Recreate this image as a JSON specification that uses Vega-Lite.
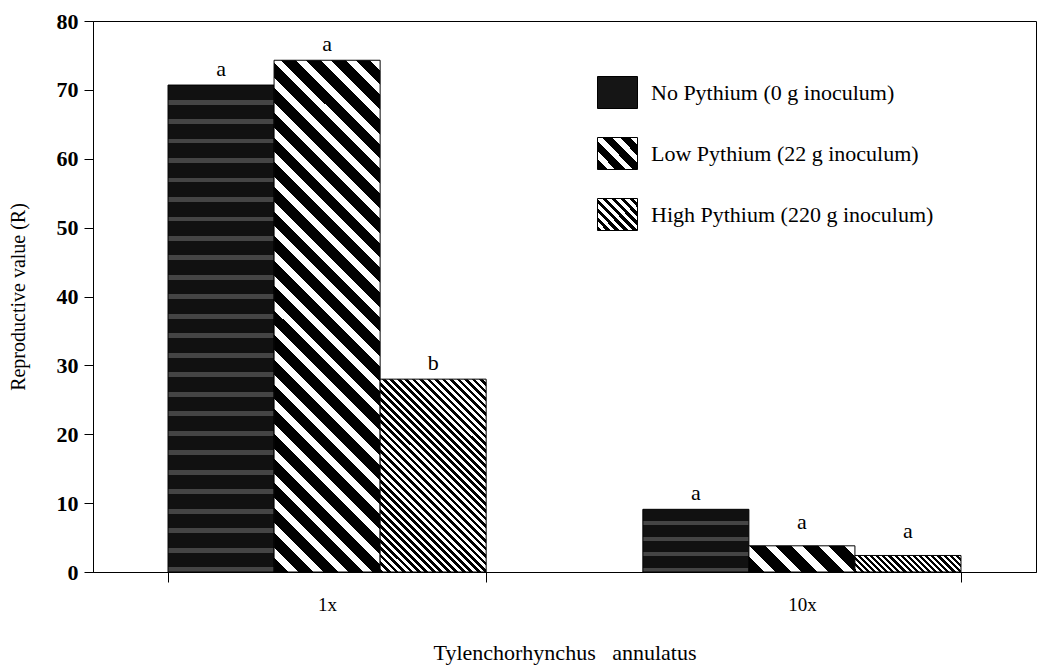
{
  "$schema": "https://vega.github.io/schema/vega-lite/v6.json",
  "width": 943,
  "height": 551,
  "autosize": {"type": "none"},
  "padding": {"left": 93, "top": 21, "right": 2, "bottom": 95},
  "background": "white",
  "config": {
    "font": "Liberation Serif",
    "view": {"stroke": "#000", "strokeWidth": 1},
    "axis": {"domainColor": "#000", "tickColor": "#000", "labelColor": "#000", "titleColor": "#000", "grid": false, "titleFontWeight": "normal", "labelFont": "Liberation Serif", "titleFont": "Liberation Serif"}
  },
  "data": {
    "values": [
      {"dose": "1x", "treatment": "No Pythium (0 g inoculum)", "value": 70.7, "letter": "a"},
      {"dose": "1x", "treatment": "Low Pythium (22 g inoculum)", "value": 74.3, "letter": "a"},
      {"dose": "1x", "treatment": "High Pythium (220 g inoculum)", "value": 28, "letter": "b"},
      {"dose": "10x", "treatment": "No Pythium (0 g inoculum)", "value": 9.1, "letter": "a"},
      {"dose": "10x", "treatment": "Low Pythium (22 g inoculum)", "value": 3.8, "letter": "a"},
      {"dose": "10x", "treatment": "High Pythium (220 g inoculum)", "value": 2.4, "letter": "a"}
    ]
  },
  "encoding": {
    "x": {
      "field": "dose", "type": "nominal", "sort": ["1x", "10x"],
      "scale": {"paddingInner": 0.33, "paddingOuter": 0.158},
      "axis": {"title": "Tylenchorhynchus\u00a0\u00a0\u00a0annulatus", "labelAngle": 0, "tickBand": "extent", "tickSize": 10, "labelPadding": 13, "labelFontSize": 19, "titleFontSize": 22, "titlePadding": 28}
    },
    "xOffset": {
      "field": "treatment", "type": "nominal",
      "sort": ["No Pythium (0 g inoculum)", "Low Pythium (22 g inoculum)", "High Pythium (220 g inoculum)"],
      "scale": {"paddingInner": 0, "paddingOuter": 0}
    },
    "y": {
      "field": "value", "type": "quantitative",
      "scale": {"domain": [0, 80], "nice": false},
      "axis": {"title": "Reproductive value (R)", "values": [0, 10, 20, 30, 40, 50, 60, 70, 80], "tickSize": 9, "labelPadding": 6, "labelFontSize": 22, "labelFontWeight": "bold", "titleFontSize": 20, "titlePadding": 28}
    }
  },
  "layer": [
    {
      "mark": {"type": "bar", "strokeWidth": 1, "stroke": "#000"},
      "encoding": {
        "fill": {
          "field": "treatment", "type": "nominal",
          "scale": {
            "domain": ["No Pythium (0 g inoculum)", "Low Pythium (22 g inoculum)", "High Pythium (220 g inoculum)"],
            "range": [
              "#151515",
              {"expr": "{gradient: 'linear', x1: 0, y1: 1, x2: 1.0976, y2: 0.122, stops: [{offset: 0, color: '#000'}, {offset: 0.15, color: '#000'}, {offset: 0.15, color: '#fff'}, {offset: 0.25, color: '#fff'}, {offset: 0.25, color: '#000'}, {offset: 0.4, color: '#000'}, {offset: 0.4, color: '#fff'}, {offset: 0.5, color: '#fff'}, {offset: 0.5, color: '#000'}, {offset: 0.65, color: '#000'}, {offset: 0.65, color: '#fff'}, {offset: 0.75, color: '#fff'}, {offset: 0.75, color: '#000'}, {offset: 0.9, color: '#000'}, {offset: 0.9, color: '#fff'}, {offset: 1, color: '#fff'}]}"},
              {"expr": "{gradient: 'linear', x1: 0, y1: 1, x2: 1.0976, y2: 0.122, stops: [{offset: 0, color: '#000'}, {offset: 0.0625, color: '#000'}, {offset: 0.0625, color: '#fff'}, {offset: 0.125, color: '#fff'}, {offset: 0.125, color: '#000'}, {offset: 0.1875, color: '#000'}, {offset: 0.1875, color: '#fff'}, {offset: 0.25, color: '#fff'}, {offset: 0.25, color: '#000'}, {offset: 0.3125, color: '#000'}, {offset: 0.3125, color: '#fff'}, {offset: 0.375, color: '#fff'}, {offset: 0.375, color: '#000'}, {offset: 0.4375, color: '#000'}, {offset: 0.4375, color: '#fff'}, {offset: 0.5, color: '#fff'}, {offset: 0.5, color: '#000'}, {offset: 0.5625, color: '#000'}, {offset: 0.5625, color: '#fff'}, {offset: 0.625, color: '#fff'}, {offset: 0.625, color: '#000'}, {offset: 0.6875, color: '#000'}, {offset: 0.6875, color: '#fff'}, {offset: 0.75, color: '#fff'}, {offset: 0.75, color: '#000'}, {offset: 0.8125, color: '#000'}, {offset: 0.8125, color: '#fff'}, {offset: 0.875, color: '#fff'}, {offset: 0.875, color: '#000'}, {offset: 0.9375, color: '#000'}, {offset: 0.9375, color: '#fff'}, {offset: 1, color: '#fff'}]}"}
            ]
          },
          "legend": {
            "title": null,
            "orient": "none",
            "legendX": 508,
            "legendY": 55,
            "symbolType": "M-1.25,-1H1.25V1H-1.25Z",
            "symbolSize": 1024,
            "symbolStrokeWidth": 1,
            "symbolStrokeColor": "#000",
            "symbolOpacity": 1,
            "rowPadding": 24,
            "labelOffset": 17,
            "labelFont": "Liberation Serif",
            "labelFontSize": 22,
            "labelColor": "#000",
            "labelLimit": 400
          },
          "condition": [
            {"test": "datum.dose === '1x' && datum.treatment === 'No Pythium (0 g inoculum)'", "value": {"gradient": "linear", "x1": 0, "y1": 0, "x2": 0, "y2": 1, "stops": [
              {"offset":0,"color":"#111"},{"offset":0.03,"color":"#111"},{"offset":0.03,"color":"#454545"},{"offset":0.04,"color":"#454545"},
              {"offset":0.04,"color":"#111"},{"offset":0.07,"color":"#111"},{"offset":0.07,"color":"#454545"},{"offset":0.08,"color":"#454545"},
              {"offset":0.08,"color":"#111"},{"offset":0.11,"color":"#111"},{"offset":0.11,"color":"#454545"},{"offset":0.12,"color":"#454545"},
              {"offset":0.12,"color":"#111"},{"offset":0.15,"color":"#111"},{"offset":0.15,"color":"#454545"},{"offset":0.16,"color":"#454545"},
              {"offset":0.16,"color":"#111"},{"offset":0.19,"color":"#111"},{"offset":0.19,"color":"#454545"},{"offset":0.2,"color":"#454545"},
              {"offset":0.2,"color":"#111"},{"offset":0.23,"color":"#111"},{"offset":0.23,"color":"#454545"},{"offset":0.24,"color":"#454545"},
              {"offset":0.24,"color":"#111"},{"offset":0.27,"color":"#111"},{"offset":0.27,"color":"#454545"},{"offset":0.28,"color":"#454545"},
              {"offset":0.28,"color":"#111"},{"offset":0.31,"color":"#111"},{"offset":0.31,"color":"#454545"},{"offset":0.32,"color":"#454545"},
              {"offset":0.32,"color":"#111"},{"offset":0.35,"color":"#111"},{"offset":0.35,"color":"#454545"},{"offset":0.36,"color":"#454545"},
              {"offset":0.36,"color":"#111"},{"offset":0.39,"color":"#111"},{"offset":0.39,"color":"#454545"},{"offset":0.4,"color":"#454545"},
              {"offset":0.4,"color":"#111"},{"offset":0.43,"color":"#111"},{"offset":0.43,"color":"#454545"},{"offset":0.44,"color":"#454545"},
              {"offset":0.44,"color":"#111"},{"offset":0.47,"color":"#111"},{"offset":0.47,"color":"#454545"},{"offset":0.48,"color":"#454545"},
              {"offset":0.48,"color":"#111"},{"offset":0.51,"color":"#111"},{"offset":0.51,"color":"#454545"},{"offset":0.52,"color":"#454545"},
              {"offset":0.52,"color":"#111"},{"offset":0.55,"color":"#111"},{"offset":0.55,"color":"#454545"},{"offset":0.56,"color":"#454545"},
              {"offset":0.56,"color":"#111"},{"offset":0.59,"color":"#111"},{"offset":0.59,"color":"#454545"},{"offset":0.6,"color":"#454545"},
              {"offset":0.6,"color":"#111"},{"offset":0.63,"color":"#111"},{"offset":0.63,"color":"#454545"},{"offset":0.64,"color":"#454545"},
              {"offset":0.64,"color":"#111"},{"offset":0.67,"color":"#111"},{"offset":0.67,"color":"#454545"},{"offset":0.68,"color":"#454545"},
              {"offset":0.68,"color":"#111"},{"offset":0.71,"color":"#111"},{"offset":0.71,"color":"#454545"},{"offset":0.72,"color":"#454545"},
              {"offset":0.72,"color":"#111"},{"offset":0.75,"color":"#111"},{"offset":0.75,"color":"#454545"},{"offset":0.76,"color":"#454545"},
              {"offset":0.76,"color":"#111"},{"offset":0.79,"color":"#111"},{"offset":0.79,"color":"#454545"},{"offset":0.8,"color":"#454545"},
              {"offset":0.8,"color":"#111"},{"offset":0.83,"color":"#111"},{"offset":0.83,"color":"#454545"},{"offset":0.84,"color":"#454545"},
              {"offset":0.84,"color":"#111"},{"offset":0.87,"color":"#111"},{"offset":0.87,"color":"#454545"},{"offset":0.88,"color":"#454545"},
              {"offset":0.88,"color":"#111"},{"offset":0.91,"color":"#111"},{"offset":0.91,"color":"#454545"},{"offset":0.92,"color":"#454545"},
              {"offset":0.92,"color":"#111"},{"offset":0.95,"color":"#111"},{"offset":0.95,"color":"#454545"},{"offset":0.96,"color":"#454545"},
              {"offset":0.96,"color":"#111"},{"offset":0.99,"color":"#111"},{"offset":0.99,"color":"#454545"},{"offset":1,"color":"#454545"}
            ]}},
            {"test": "datum.dose === '10x' && datum.treatment === 'No Pythium (0 g inoculum)'", "value": {"gradient": "linear", "x1": 0, "y1": 0, "x2": 0, "y2": 1, "stops": [
              {"offset":0,"color":"#111"},{"offset":0.1875,"color":"#111"},{"offset":0.1875,"color":"#454545"},{"offset":0.25,"color":"#454545"},
              {"offset":0.25,"color":"#111"},{"offset":0.4375,"color":"#111"},{"offset":0.4375,"color":"#454545"},{"offset":0.5,"color":"#454545"},
              {"offset":0.5,"color":"#111"},{"offset":0.6875,"color":"#111"},{"offset":0.6875,"color":"#454545"},{"offset":0.75,"color":"#454545"},
              {"offset":0.75,"color":"#111"},{"offset":0.9375,"color":"#111"},{"offset":0.9375,"color":"#454545"},{"offset":1,"color":"#454545"}
            ]}},
            {"test": "datum.dose === '1x' && datum.treatment === 'Low Pythium (22 g inoculum)'", "value": {"gradient": "linear", "x1": 0, "y1": 1, "x2": 0.2398, "y2": -0.1575, "stops": [
              {"offset":0,"color":"#000"},{"offset":0.024,"color":"#000"},{"offset":0.024,"color":"#fff"},{"offset":0.04,"color":"#fff"},
              {"offset":0.04,"color":"#000"},{"offset":0.064,"color":"#000"},{"offset":0.064,"color":"#fff"},{"offset":0.08,"color":"#fff"},
              {"offset":0.08,"color":"#000"},{"offset":0.104,"color":"#000"},{"offset":0.104,"color":"#fff"},{"offset":0.12,"color":"#fff"},
              {"offset":0.12,"color":"#000"},{"offset":0.144,"color":"#000"},{"offset":0.144,"color":"#fff"},{"offset":0.16,"color":"#fff"},
              {"offset":0.16,"color":"#000"},{"offset":0.184,"color":"#000"},{"offset":0.184,"color":"#fff"},{"offset":0.2,"color":"#fff"},
              {"offset":0.2,"color":"#000"},{"offset":0.224,"color":"#000"},{"offset":0.224,"color":"#fff"},{"offset":0.24,"color":"#fff"},
              {"offset":0.24,"color":"#000"},{"offset":0.264,"color":"#000"},{"offset":0.264,"color":"#fff"},{"offset":0.28,"color":"#fff"},
              {"offset":0.28,"color":"#000"},{"offset":0.304,"color":"#000"},{"offset":0.304,"color":"#fff"},{"offset":0.32,"color":"#fff"},
              {"offset":0.32,"color":"#000"},{"offset":0.344,"color":"#000"},{"offset":0.344,"color":"#fff"},{"offset":0.36,"color":"#fff"},
              {"offset":0.36,"color":"#000"},{"offset":0.384,"color":"#000"},{"offset":0.384,"color":"#fff"},{"offset":0.4,"color":"#fff"},
              {"offset":0.4,"color":"#000"},{"offset":0.424,"color":"#000"},{"offset":0.424,"color":"#fff"},{"offset":0.44,"color":"#fff"},
              {"offset":0.44,"color":"#000"},{"offset":0.464,"color":"#000"},{"offset":0.464,"color":"#fff"},{"offset":0.48,"color":"#fff"},
              {"offset":0.48,"color":"#000"},{"offset":0.504,"color":"#000"},{"offset":0.504,"color":"#fff"},{"offset":0.52,"color":"#fff"},
              {"offset":0.52,"color":"#000"},{"offset":0.544,"color":"#000"},{"offset":0.544,"color":"#fff"},{"offset":0.56,"color":"#fff"},
              {"offset":0.56,"color":"#000"},{"offset":0.584,"color":"#000"},{"offset":0.584,"color":"#fff"},{"offset":0.6,"color":"#fff"},
              {"offset":0.6,"color":"#000"},{"offset":0.624,"color":"#000"},{"offset":0.624,"color":"#fff"},{"offset":0.64,"color":"#fff"},
              {"offset":0.64,"color":"#000"},{"offset":0.664,"color":"#000"},{"offset":0.664,"color":"#fff"},{"offset":0.68,"color":"#fff"},
              {"offset":0.68,"color":"#000"},{"offset":0.704,"color":"#000"},{"offset":0.704,"color":"#fff"},{"offset":0.72,"color":"#fff"},
              {"offset":0.72,"color":"#000"},{"offset":0.744,"color":"#000"},{"offset":0.744,"color":"#fff"},{"offset":0.76,"color":"#fff"},
              {"offset":0.76,"color":"#000"},{"offset":0.784,"color":"#000"},{"offset":0.784,"color":"#fff"},{"offset":0.8,"color":"#fff"},
              {"offset":0.8,"color":"#000"},{"offset":0.824,"color":"#000"},{"offset":0.824,"color":"#fff"},{"offset":0.84,"color":"#fff"},
              {"offset":0.84,"color":"#000"},{"offset":0.864,"color":"#000"},{"offset":0.864,"color":"#fff"},{"offset":0.88,"color":"#fff"},
              {"offset":0.88,"color":"#000"},{"offset":0.904,"color":"#000"},{"offset":0.904,"color":"#fff"},{"offset":0.92,"color":"#fff"},
              {"offset":0.92,"color":"#000"},{"offset":0.944,"color":"#000"},{"offset":0.944,"color":"#fff"},{"offset":0.96,"color":"#fff"},
              {"offset":0.96,"color":"#000"},{"offset":0.984,"color":"#000"},{"offset":0.984,"color":"#fff"},{"offset":1,"color":"#fff"}
            ]}},
            {"test": "datum.dose === '10x' && datum.treatment === 'Low Pythium (22 g inoculum)'", "value": {"gradient": "linear", "x1": 0, "y1": 1, "x2": 1.1754, "y2": 0.7095, "stops": [
              {"offset":0,"color":"#000"},{"offset":0.12,"color":"#000"},{"offset":0.12,"color":"#fff"},{"offset":0.2,"color":"#fff"},
              {"offset":0.2,"color":"#000"},{"offset":0.32,"color":"#000"},{"offset":0.32,"color":"#fff"},{"offset":0.4,"color":"#fff"},
              {"offset":0.4,"color":"#000"},{"offset":0.52,"color":"#000"},{"offset":0.52,"color":"#fff"},{"offset":0.6,"color":"#fff"},
              {"offset":0.6,"color":"#000"},{"offset":0.72,"color":"#000"},{"offset":0.72,"color":"#fff"},{"offset":0.8,"color":"#fff"},
              {"offset":0.8,"color":"#000"},{"offset":0.92,"color":"#000"},{"offset":0.92,"color":"#fff"},{"offset":1,"color":"#fff"}
            ]}},
            {"test": "datum.dose === '1x' && datum.treatment === 'High Pythium (220 g inoculum)'", "value": {"gradient": "linear", "x1": 0, "y1": 1, "x2": 0.654, "y2": -0.19, "stops": [
              {"offset":0,"color":"#000"},{"offset":0.0125,"color":"#000"},{"offset":0.0125,"color":"#fff"},{"offset":0.025,"color":"#fff"},
              {"offset":0.025,"color":"#000"},{"offset":0.0375,"color":"#000"},{"offset":0.0375,"color":"#fff"},{"offset":0.05,"color":"#fff"},
              {"offset":0.05,"color":"#000"},{"offset":0.0625,"color":"#000"},{"offset":0.0625,"color":"#fff"},{"offset":0.075,"color":"#fff"},
              {"offset":0.075,"color":"#000"},{"offset":0.0875,"color":"#000"},{"offset":0.0875,"color":"#fff"},{"offset":0.1,"color":"#fff"},
              {"offset":0.1,"color":"#000"},{"offset":0.1125,"color":"#000"},{"offset":0.1125,"color":"#fff"},{"offset":0.125,"color":"#fff"},
              {"offset":0.125,"color":"#000"},{"offset":0.1375,"color":"#000"},{"offset":0.1375,"color":"#fff"},{"offset":0.15,"color":"#fff"},
              {"offset":0.15,"color":"#000"},{"offset":0.1625,"color":"#000"},{"offset":0.1625,"color":"#fff"},{"offset":0.175,"color":"#fff"},
              {"offset":0.175,"color":"#000"},{"offset":0.1875,"color":"#000"},{"offset":0.1875,"color":"#fff"},{"offset":0.2,"color":"#fff"},
              {"offset":0.2,"color":"#000"},{"offset":0.2125,"color":"#000"},{"offset":0.2125,"color":"#fff"},{"offset":0.225,"color":"#fff"},
              {"offset":0.225,"color":"#000"},{"offset":0.2375,"color":"#000"},{"offset":0.2375,"color":"#fff"},{"offset":0.25,"color":"#fff"},
              {"offset":0.25,"color":"#000"},{"offset":0.2625,"color":"#000"},{"offset":0.2625,"color":"#fff"},{"offset":0.275,"color":"#fff"},
              {"offset":0.275,"color":"#000"},{"offset":0.2875,"color":"#000"},{"offset":0.2875,"color":"#fff"},{"offset":0.3,"color":"#fff"},
              {"offset":0.3,"color":"#000"},{"offset":0.3125,"color":"#000"},{"offset":0.3125,"color":"#fff"},{"offset":0.325,"color":"#fff"},
              {"offset":0.325,"color":"#000"},{"offset":0.3375,"color":"#000"},{"offset":0.3375,"color":"#fff"},{"offset":0.35,"color":"#fff"},
              {"offset":0.35,"color":"#000"},{"offset":0.3625,"color":"#000"},{"offset":0.3625,"color":"#fff"},{"offset":0.375,"color":"#fff"},
              {"offset":0.375,"color":"#000"},{"offset":0.3875,"color":"#000"},{"offset":0.3875,"color":"#fff"},{"offset":0.4,"color":"#fff"},
              {"offset":0.4,"color":"#000"},{"offset":0.4125,"color":"#000"},{"offset":0.4125,"color":"#fff"},{"offset":0.425,"color":"#fff"},
              {"offset":0.425,"color":"#000"},{"offset":0.4375,"color":"#000"},{"offset":0.4375,"color":"#fff"},{"offset":0.45,"color":"#fff"},
              {"offset":0.45,"color":"#000"},{"offset":0.4625,"color":"#000"},{"offset":0.4625,"color":"#fff"},{"offset":0.475,"color":"#fff"},
              {"offset":0.475,"color":"#000"},{"offset":0.4875,"color":"#000"},{"offset":0.4875,"color":"#fff"},{"offset":0.5,"color":"#fff"},
              {"offset":0.5,"color":"#000"},{"offset":0.5125,"color":"#000"},{"offset":0.5125,"color":"#fff"},{"offset":0.525,"color":"#fff"},
              {"offset":0.525,"color":"#000"},{"offset":0.5375,"color":"#000"},{"offset":0.5375,"color":"#fff"},{"offset":0.55,"color":"#fff"},
              {"offset":0.55,"color":"#000"},{"offset":0.5625,"color":"#000"},{"offset":0.5625,"color":"#fff"},{"offset":0.575,"color":"#fff"},
              {"offset":0.575,"color":"#000"},{"offset":0.5875,"color":"#000"},{"offset":0.5875,"color":"#fff"},{"offset":0.6,"color":"#fff"},
              {"offset":0.6,"color":"#000"},{"offset":0.6125,"color":"#000"},{"offset":0.6125,"color":"#fff"},{"offset":0.625,"color":"#fff"},
              {"offset":0.625,"color":"#000"},{"offset":0.6375,"color":"#000"},{"offset":0.6375,"color":"#fff"},{"offset":0.65,"color":"#fff"},
              {"offset":0.65,"color":"#000"},{"offset":0.6625,"color":"#000"},{"offset":0.6625,"color":"#fff"},{"offset":0.675,"color":"#fff"},
              {"offset":0.675,"color":"#000"},{"offset":0.6875,"color":"#000"},{"offset":0.6875,"color":"#fff"},{"offset":0.7,"color":"#fff"},
              {"offset":0.7,"color":"#000"},{"offset":0.7125,"color":"#000"},{"offset":0.7125,"color":"#fff"},{"offset":0.725,"color":"#fff"},
              {"offset":0.725,"color":"#000"},{"offset":0.7375,"color":"#000"},{"offset":0.7375,"color":"#fff"},{"offset":0.75,"color":"#fff"},
              {"offset":0.75,"color":"#000"},{"offset":0.7625,"color":"#000"},{"offset":0.7625,"color":"#fff"},{"offset":0.775,"color":"#fff"},
              {"offset":0.775,"color":"#000"},{"offset":0.7875,"color":"#000"},{"offset":0.7875,"color":"#fff"},{"offset":0.8,"color":"#fff"},
              {"offset":0.8,"color":"#000"},{"offset":0.8125,"color":"#000"},{"offset":0.8125,"color":"#fff"},{"offset":0.825,"color":"#fff"},
              {"offset":0.825,"color":"#000"},{"offset":0.8375,"color":"#000"},{"offset":0.8375,"color":"#fff"},{"offset":0.85,"color":"#fff"},
              {"offset":0.85,"color":"#000"},{"offset":0.8625,"color":"#000"},{"offset":0.8625,"color":"#fff"},{"offset":0.875,"color":"#fff"},
              {"offset":0.875,"color":"#000"},{"offset":0.8875,"color":"#000"},{"offset":0.8875,"color":"#fff"},{"offset":0.9,"color":"#fff"},
              {"offset":0.9,"color":"#000"},{"offset":0.9125,"color":"#000"},{"offset":0.9125,"color":"#fff"},{"offset":0.925,"color":"#fff"},
              {"offset":0.925,"color":"#000"},{"offset":0.9375,"color":"#000"},{"offset":0.9375,"color":"#fff"},{"offset":0.95,"color":"#fff"},
              {"offset":0.95,"color":"#000"},{"offset":0.9625,"color":"#000"},{"offset":0.9625,"color":"#fff"},{"offset":0.975,"color":"#fff"},
              {"offset":0.975,"color":"#000"},{"offset":0.9875,"color":"#000"},{"offset":0.9875,"color":"#fff"},{"offset":1,"color":"#fff"}
            ]}},
            {"test": "datum.dose === '10x' && datum.treatment === 'High Pythium (220 g inoculum)'", "value": {"gradient": "linear", "x1": 0, "y1": 1, "x2": 1.128, "y2": 0.8244, "stops": [
              {"offset":0,"color":"#000"},{"offset":0.025,"color":"#000"},{"offset":0.025,"color":"#fff"},{"offset":0.05,"color":"#fff"},
              {"offset":0.05,"color":"#000"},{"offset":0.075,"color":"#000"},{"offset":0.075,"color":"#fff"},{"offset":0.1,"color":"#fff"},
              {"offset":0.1,"color":"#000"},{"offset":0.125,"color":"#000"},{"offset":0.125,"color":"#fff"},{"offset":0.15,"color":"#fff"},
              {"offset":0.15,"color":"#000"},{"offset":0.175,"color":"#000"},{"offset":0.175,"color":"#fff"},{"offset":0.2,"color":"#fff"},
              {"offset":0.2,"color":"#000"},{"offset":0.225,"color":"#000"},{"offset":0.225,"color":"#fff"},{"offset":0.25,"color":"#fff"},
              {"offset":0.25,"color":"#000"},{"offset":0.275,"color":"#000"},{"offset":0.275,"color":"#fff"},{"offset":0.3,"color":"#fff"},
              {"offset":0.3,"color":"#000"},{"offset":0.325,"color":"#000"},{"offset":0.325,"color":"#fff"},{"offset":0.35,"color":"#fff"},
              {"offset":0.35,"color":"#000"},{"offset":0.375,"color":"#000"},{"offset":0.375,"color":"#fff"},{"offset":0.4,"color":"#fff"},
              {"offset":0.4,"color":"#000"},{"offset":0.425,"color":"#000"},{"offset":0.425,"color":"#fff"},{"offset":0.45,"color":"#fff"},
              {"offset":0.45,"color":"#000"},{"offset":0.475,"color":"#000"},{"offset":0.475,"color":"#fff"},{"offset":0.5,"color":"#fff"},
              {"offset":0.5,"color":"#000"},{"offset":0.525,"color":"#000"},{"offset":0.525,"color":"#fff"},{"offset":0.55,"color":"#fff"},
              {"offset":0.55,"color":"#000"},{"offset":0.575,"color":"#000"},{"offset":0.575,"color":"#fff"},{"offset":0.6,"color":"#fff"},
              {"offset":0.6,"color":"#000"},{"offset":0.625,"color":"#000"},{"offset":0.625,"color":"#fff"},{"offset":0.65,"color":"#fff"},
              {"offset":0.65,"color":"#000"},{"offset":0.675,"color":"#000"},{"offset":0.675,"color":"#fff"},{"offset":0.7,"color":"#fff"},
              {"offset":0.7,"color":"#000"},{"offset":0.725,"color":"#000"},{"offset":0.725,"color":"#fff"},{"offset":0.75,"color":"#fff"},
              {"offset":0.75,"color":"#000"},{"offset":0.775,"color":"#000"},{"offset":0.775,"color":"#fff"},{"offset":0.8,"color":"#fff"},
              {"offset":0.8,"color":"#000"},{"offset":0.825,"color":"#000"},{"offset":0.825,"color":"#fff"},{"offset":0.85,"color":"#fff"},
              {"offset":0.85,"color":"#000"},{"offset":0.875,"color":"#000"},{"offset":0.875,"color":"#fff"},{"offset":0.9,"color":"#fff"},
              {"offset":0.9,"color":"#000"},{"offset":0.925,"color":"#000"},{"offset":0.925,"color":"#fff"},{"offset":0.95,"color":"#fff"},
              {"offset":0.95,"color":"#000"},{"offset":0.975,"color":"#000"},{"offset":0.975,"color":"#fff"},{"offset":1,"color":"#fff"}
            ]}}
          ]
        }
      }
    },
    {
      "transform": [{"filter": "datum.dose === '1x' || datum.treatment === 'No Pythium (0 g inoculum)'"}],
      "mark": {"type": "text", "baseline": "alphabetic", "dy": -9, "fontSize": 22, "font": "Liberation Serif", "color": "#000"},
      "encoding": {"text": {"field": "letter"}}
    },
    {
      "transform": [{"filter": "datum.dose === '10x' && datum.treatment !== 'No Pythium (0 g inoculum)'"}],
      "mark": {"type": "text", "baseline": "alphabetic", "dy": -17, "fontSize": 22, "font": "Liberation Serif", "color": "#000"},
      "encoding": {"text": {"field": "letter"}}
    }
  ]
}
